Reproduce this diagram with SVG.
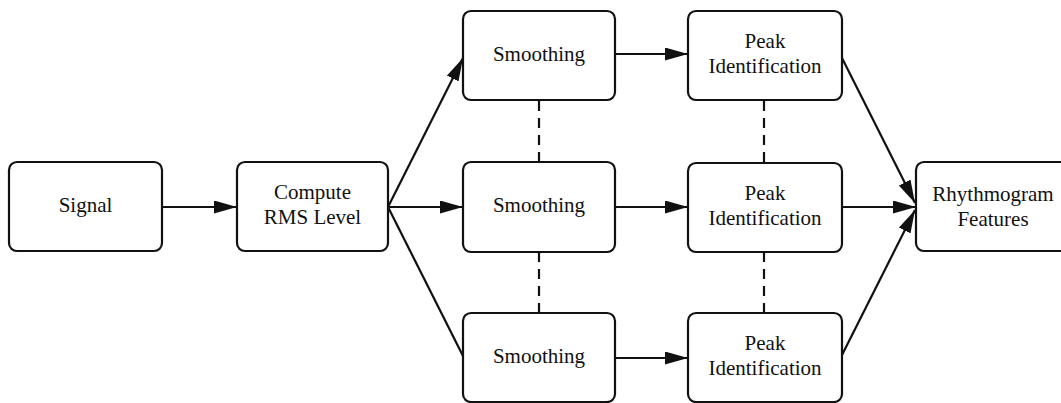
<svg xmlns="http://www.w3.org/2000/svg" width="1061" height="403" viewBox="0 0 1061 403">
  <defs>
    <style>
      .box { fill: #ffffff; stroke: #111111; stroke-width: 2.2; }
      .lbl { font-family: "Liberation Serif", "Times New Roman", serif; font-size: 21px; fill: #111111; text-anchor: middle; }
      .edge { stroke: #111111; stroke-width: 2.2; fill: none; }
      .dash { stroke: #111111; stroke-width: 2.2; fill: none; stroke-dasharray: 10 7; }
    </style>
    <marker id="arrow" markerUnits="userSpaceOnUse" markerWidth="24" markerHeight="14" refX="23" refY="6.5" orient="auto">
      <path d="M0,0 L23,6.5 L0,13 Z" fill="#111111"/>
    </marker>
  </defs>
  <rect width="1061" height="403" fill="#ffffff"/>

  <!-- connectors -->
  <g id="connectors">
    <line class="edge" x1="162" y1="207" x2="237" y2="207" marker-end="url(#arrow)"/>
    <line class="edge" x1="388" y1="207" x2="463" y2="58" marker-end="url(#arrow)"/>
    <line class="edge" x1="388" y1="207" x2="463" y2="207" marker-end="url(#arrow)"/>
    <line class="edge" x1="388" y1="207" x2="463" y2="356"/>
    <line class="edge" x1="615" y1="54" x2="688" y2="54" marker-end="url(#arrow)"/>
    <line class="edge" x1="615" y1="207" x2="688" y2="207" marker-end="url(#arrow)"/>
    <line class="edge" x1="615" y1="358" x2="688" y2="358" marker-end="url(#arrow)"/>
    <line class="edge" x1="842" y1="58" x2="915" y2="203" marker-end="url(#arrow)"/>
    <line class="edge" x1="842" y1="207" x2="916" y2="207" marker-end="url(#arrow)"/>
    <line class="edge" x1="842" y1="355" x2="915" y2="210" marker-end="url(#arrow)"/>
    <line class="dash" x1="539" y1="101" x2="539" y2="162"/>
    <line class="dash" x1="539" y1="252" x2="539" y2="313"/>
    <line class="dash" x1="764" y1="101" x2="764" y2="163"/>
    <line class="dash" x1="764" y1="252" x2="764" y2="313"/>
  </g>

  <g id="signal">
    <rect class="box" x="9" y="162" width="153" height="89" rx="8"/>
    <text class="lbl" x="85.5" y="212">Signal</text>
  </g>
  <g id="compute-rms">
    <rect class="box" x="237" y="162" width="151" height="89" rx="8"/>
    <text class="lbl" x="312.5" y="199">Compute</text>
    <text class="lbl" x="312.5" y="224">RMS Level</text>
  </g>

  <g id="smoothing-1">
    <rect class="box" x="463" y="11" width="152" height="89" rx="8"/>
    <text class="lbl" x="539" y="61">Smoothing</text>
  </g>
  <g id="smoothing-2">
    <rect class="box" x="463" y="162" width="152" height="90" rx="8"/>
    <text class="lbl" x="539" y="212">Smoothing</text>
  </g>
  <g id="smoothing-3">
    <rect class="box" x="463" y="313" width="152" height="89" rx="8"/>
    <text class="lbl" x="539" y="363">Smoothing</text>
  </g>

  <g id="peak-1">
    <rect class="box" x="688" y="11" width="154" height="89" rx="8"/>
    <text class="lbl" x="765" y="48">Peak</text>
    <text class="lbl" x="765" y="73">Identification</text>
  </g>
  <g id="peak-2">
    <rect class="box" x="688" y="163" width="154" height="89" rx="8"/>
    <text class="lbl" x="765" y="200">Peak</text>
    <text class="lbl" x="765" y="225">Identification</text>
  </g>
  <g id="peak-3">
    <rect class="box" x="688" y="313" width="154" height="89" rx="8"/>
    <text class="lbl" x="765" y="350">Peak</text>
    <text class="lbl" x="765" y="375">Identification</text>
  </g>

  <g id="rhythmogram">
    <rect class="box" x="916" y="162" width="154" height="89" rx="8"/>
    <text class="lbl" x="993" y="201">Rhythmogram</text>
    <text class="lbl" x="993" y="226">Features</text>
  </g>
</svg>
